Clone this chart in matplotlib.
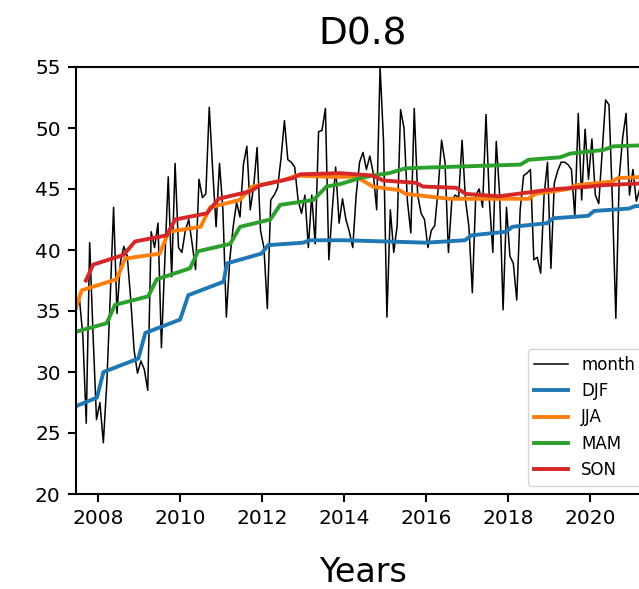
import numpy as np
import matplotlib
matplotlib.use("Agg")
import matplotlib.pyplot as plt

# monthly series, first month = June 2007 (decimal years)
start_year = 2007.46
month_vals = [
    35.0, 36.0, 33.0, 25.8, 40.6, 33.0, 26.1, 27.5, 24.2, 29.0, 36.0, 43.5,
    34.8, 39.0, 40.3, 39.5, 36.0, 31.8, 29.9, 30.9, 30.2, 28.5, 41.5, 40.2,
    42.2, 32.0, 39.2, 46.0, 37.8, 47.1, 40.2, 39.8, 41.6, 42.5, 40.5, 38.4,
    45.8, 44.3, 44.6, 51.7, 46.6, 41.9, 47.1, 43.3, 34.5, 39.2, 41.9, 43.9,
    42.7, 47.0, 48.5, 43.3, 45.2, 48.4, 41.6, 40.2, 35.2, 44.1, 44.5, 45.1,
    47.5, 50.6, 47.4, 47.2, 46.8, 44.1, 43.0, 44.5, 40.2, 44.5, 40.5, 49.7,
    49.8, 51.6, 39.2, 43.3, 46.8, 42.2, 44.2, 42.5, 41.5, 40.2, 44.5, 47.2,
    48.0, 46.6, 47.7, 46.3, 43.3, 55.0, 49.0, 34.5, 43.3, 39.8, 42.0, 51.5,
    50.0, 44.0, 41.4, 51.6, 44.5, 43.0, 42.5, 40.2, 41.6, 42.0, 45.0, 49.0,
    47.2, 39.8, 44.1, 44.5, 44.3, 49.0, 44.1, 41.9, 36.5, 44.5, 45.0, 43.5,
    51.1, 44.0, 39.8, 48.9, 44.5, 35.1, 43.5, 39.5, 38.9, 35.9, 43.3, 46.1,
    46.3, 46.6, 39.2, 39.4, 38.1, 44.5, 47.2, 38.5, 45.5, 46.5, 47.2, 47.2,
    47.0, 46.6, 42.7, 51.2, 44.1, 49.9, 45.8, 49.1, 44.5, 43.8, 48.0, 52.3,
    51.9, 44.0, 34.4, 46.0, 49.2, 51.2, 44.5, 46.6, 44.0, 45.0, 47.0, 44.0,
    46.0,
]
month_years = start_year + np.arange(len(month_vals)) / 12

# seasonal curves
djf_years = [2007.46, 2007.97, 2008.13, 2008.98, 2009.15, 2010.0, 2010.2, 2011.06, 2011.14,
             2011.98, 2012.15, 2013.0, 2013.15, 2014.0, 2015.0, 2016.0, 2016.95, 2017.1,
             2017.95, 2018.1, 2018.95, 2019.1, 2019.95, 2020.1, 2020.95, 2021.1, 2021.46]
djf_vals = [27.2, 27.9, 30.0, 31.1, 33.2, 34.3, 36.3, 37.4, 38.9,
            39.7, 40.4, 40.6, 40.8, 40.8, 40.7, 40.6, 40.8, 41.2,
            41.5, 41.9, 42.2, 42.6, 42.8, 43.2, 43.4, 43.6, 43.6]

jja_years = [2007.46, 2007.6, 2008.45, 2008.66, 2009.5, 2009.72, 2010.5, 2010.73, 2011.45,
             2011.76, 2012.5, 2012.83, 2013.6, 2014.3, 2014.55, 2014.7, 2015.35, 2015.5,
             2016.55, 2018.5, 2018.66, 2019.47, 2019.63, 2020.52, 2020.68, 2021.46]
jja_vals = [35.3, 36.7, 37.6, 39.3, 39.7, 41.5, 41.9, 43.5, 44.1,
            45.2, 45.7, 46.1, 46.0, 46.0, 45.5, 45.2, 44.9, 44.6,
            44.2, 44.2, 44.6, 45.0, 45.3, 45.6, 45.9, 46.0]

mam_years = [2007.46, 2008.21, 2008.41, 2009.22, 2009.43, 2010.24, 2010.44, 2011.22, 2011.46,
             2012.2, 2012.44, 2013.25, 2013.57, 2013.9, 2014.39, 2014.7, 2015.1, 2015.5,
             2018.3, 2018.5, 2019.27, 2019.51, 2020.32, 2020.57, 2021.46]
mam_vals = [33.3, 34.0, 35.5, 36.2, 37.6, 38.5, 39.9, 40.5, 41.9,
            42.5, 43.7, 44.1, 45.2, 45.4, 45.9, 46.1, 46.3, 46.7,
            47.0, 47.4, 47.6, 47.9, 48.2, 48.5, 48.6]

son_years = [2007.7, 2007.88, 2008.62, 2008.9, 2009.67, 2009.88, 2010.65, 2010.94, 2011.7,
             2011.95, 2012.76, 2012.92, 2013.9, 2014.7, 2014.95, 2015.76, 2015.92, 2016.73,
             2016.97, 2017.78, 2018.0, 2018.9, 2019.2, 2020.0, 2020.25, 2021.46]
son_vals = [37.5, 38.8, 39.6, 40.7, 41.2, 42.5, 43.0, 44.2, 44.8,
            45.3, 45.9, 46.2, 46.3, 46.1, 45.7, 45.5, 45.2, 45.1,
            44.6, 44.4, 44.5, 44.9, 45.0, 45.2, 45.3, 45.5]

fig = plt.figure(figsize=(6.39, 5.89), dpi=100)
# axes runs past the right edge of the figure (cropped panel)
ax = fig.add_axes([76 / 639, 1 - 494 / 589, (650 - 76) / 639, (494 - 67) / 589])

ax.plot(month_years, month_vals, color='black', lw=1.1, label='month')
ax.plot(djf_years, djf_vals, color='tab:blue', lw=2.8, label='DJF')
ax.plot(jja_years, jja_vals, color='tab:orange', lw=2.8, label='JJA')
ax.plot(mam_years, mam_vals, color='tab:green', lw=2.8, label='MAM')
ax.plot(son_years, son_vals, color='tab:red', lw=2.8, label='SON')

ax.set_xlim(2007.46, 2021.46)
ax.set_ylim(20, 55)
ax.set_xticks(np.arange(2008, 2022, 2))
ax.set_yticks(np.arange(20, 56, 5))
ax.tick_params(labelsize=14.5, length=6, width=1.5, pad=5)
for s in ax.spines.values():
    s.set_linewidth(1.5)

ax.set_title('D0.8', fontsize=27, pad=16)
ax.set_xlabel('Years', fontsize=24, labelpad=20)
ax.legend(loc='lower right', fontsize=12)

fig.savefig('out.png', dpi=100)
